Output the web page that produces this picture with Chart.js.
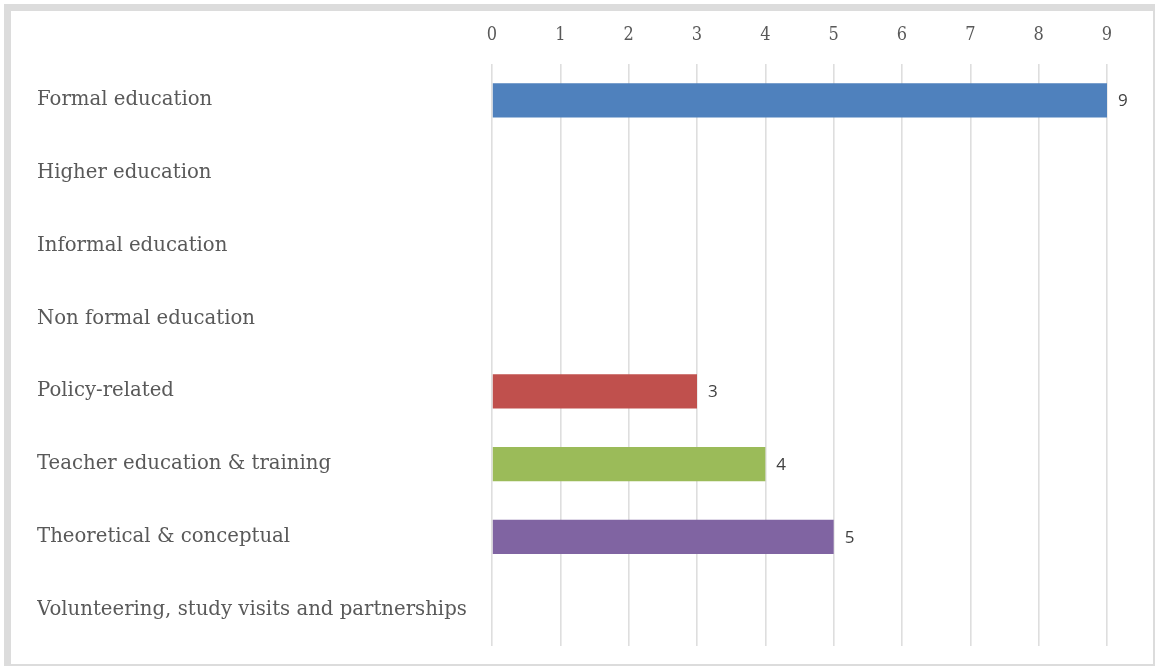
<!DOCTYPE html>
<html>
<head>
<meta charset="utf-8">
<script src="https://cdn.jsdelivr.net/npm/chart.js@4.4.1/dist/chart.umd.min.js"></script>
<style>
  html, body { margin: 0; padding: 0; background: #fff; }
  #frame {
    position: absolute; left: 4px; top: 4px; width: 1142px; height: 653px;
    border-style: solid; border-color: #dcdcdc;
    border-width: 7px 2px 2px 7px;
  }
  #wrap { position: absolute; left: 0; top: 0; width: 1157px; height: 668px; }
</style>
</head>
<body>
<div id="frame"></div>
<div id="wrap"><canvas id="topicChart"></canvas></div>
<script>
// Chart data
var categories = [
    "Formal education",
    "Higher education",
    "Informal education",
    "Non formal education",
    "Policy-related",
    "Teacher education & training",
    "Theoretical & conceptual",
    "Volunteering, study visits and partnerships"
];
var counts = [9, 0, 0, 0, 3, 4, 5, 0];
var barColors = ['#4f81bd', '#4f81bd', '#4f81bd', '#4f81bd', '#c0504d', '#9bbb59', '#8064a2', '#4f81bd'];
var tickValues = [0, 1, 2, 3, 4, 5, 6, 7, 8, 9];

// value labels at the end of each bar
var valueLabels = {
    id: 'valueLabels',
    afterDatasetsDraw: function(chart) {
        var ctx = chart.ctx;
        var meta = chart.getDatasetMeta(0);
        ctx.save();
        ctx.font = '17px "Open Sans"';
        ctx.fillStyle = '#404040';
        ctx.textAlign = 'left';
        ctx.textBaseline = 'middle';
        meta.data.forEach(function(bar, i) {
            var v = chart.data.datasets[0].data[i];
            if (!v) return;
            ctx.fillText(String(v), bar.x + 11, bar.y + 1);
        });
        ctx.restore();
    }
};

var ctx = document.getElementById('topicChart');

var chartOptions = {
    responsive: true,
    maintainAspectRatio: false,
    animation: false,
    indexAxis: 'y',
    layout: { padding: { left: 37, top: 18, right: 50, bottom: 22 } },
    plugins: {
        legend: { display: false },
        tooltip: { enabled: false }
    },
    scales: {
        x: {
            position: 'top',
            min: 0,
            max: 9,
            afterBuildTicks: function(scale) {
                scale.ticks = tickValues.map(function(v) { return { value: v }; });
            },
            afterFit: function(scale) { scale.height = 46; },
            grid: { color: '#dedede', lineWidth: 1.6, drawTicks: false },
            border: { display: false },
            ticks: {
                padding: 18,
                color: '#595959',
                font: { family: '"DejaVu Serif Condensed"', size: 18 }
            }
        },
        y: {
            afterFit: function(scale) { scale.width = 455; },
            grid: { display: false },
            border: { display: false },
            ticks: {
                crossAlign: 'far',
                color: '#595959',
                font: { family: '"DejaVu Serif"', size: 19.7 }
            }
        }
    }
};

var chartData = {
    labels: categories,
    datasets: [{
        data: counts,
        backgroundColor: barColors,
        borderWidth: 0,
        categoryPercentage: 1,
        barPercentage: 0.47
    }]
};

var config = {
    type: 'bar',
    data: chartData,
    options: chartOptions,
    plugins: [valueLabels]
};

var topicChart = new Chart(ctx, config);
</script>
</body>
</html>
